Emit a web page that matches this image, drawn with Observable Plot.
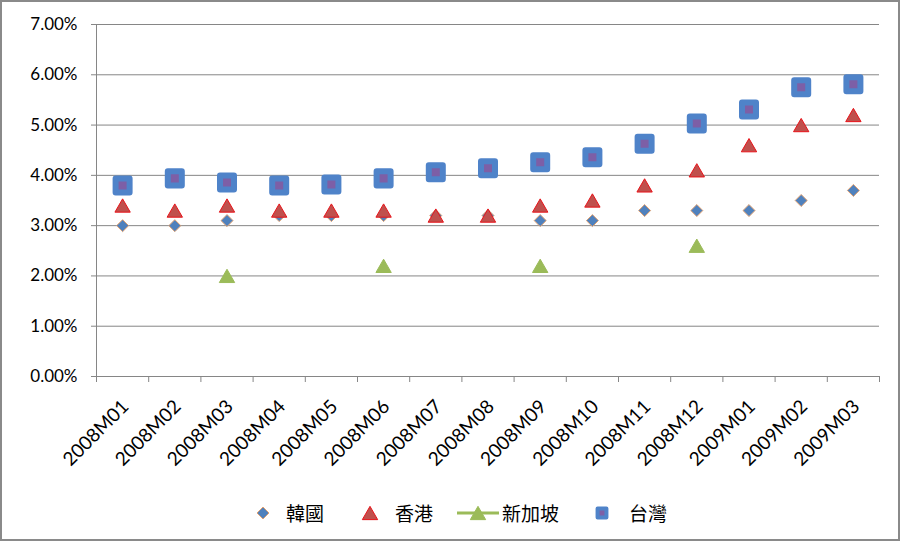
<!DOCTYPE html>
<html>
<head>
<meta charset="utf-8">
<script src="https://cdn.jsdelivr.net/npm/d3@7"></script>
<script src="https://cdn.jsdelivr.net/npm/@observablehq/plot@0.6"></script>
<style>
  html, body { margin: 0; padding: 0; background: #fff; }
  #frame { position: relative; width: 900px; height: 541px; box-sizing: border-box; border: 2px solid #8a8a8a; background: #fff; overflow: hidden; }
  #chart svg { display: block; }
  #legend { position: absolute; top: 497px; left: 251px; display: flex; align-items: center; font-family: "Noto Sans CJK TC", sans-serif; font-size: 19px; color: #000; }
  #legend .item { display: flex; align-items: center; }
  #legend svg { display: block; }
</style>
</head>
<body>
<div id="frame">
  <div id="chart"></div>
  <div id="legend"></div>
</div>
<script>
const months = ["2008M01","2008M02","2008M03","2008M04","2008M05","2008M06","2008M07","2008M08","2008M09","2008M10","2008M11","2008M12","2009M01","2009M02","2009M03"];
const yTicks = [0, 0.01, 0.02, 0.03, 0.04, 0.05, 0.06, 0.07];
const seriesNames = ["韓國", "香港", "新加坡", "台灣"];
const korea     = [0.030,0.030,0.031,0.032,0.032,0.032,0.032,0.032,0.031,0.031,0.033,0.033,0.033,0.035,0.037];
const hongKong  = [0.034,0.033,0.034,0.033,0.033,0.033,0.032,0.032,0.034,0.035,0.038,0.041,0.046,0.050,0.052];
const singapore = [null,null,0.020,null,null,0.022,null,null,0.022,null,null,0.026,null,null,null];
const taiwan    = [0.0380,0.0394,0.0386,0.0380,0.0382,0.0394,0.0406,0.0414,0.0426,0.0436,0.0463,0.0503,0.0531,0.0575,0.0581];

const toRows = (vals) => vals.map((v, i) => ({i, month: months[i], value: v})).filter(d => d.value != null);

const styles = [
  {symbol: "diamond2", r: 5.4, fill: "#4f81bd", stroke: "#e0a070", strokeWidth: 1},
  {symbol: "triangle", r: 5.7, fill: "#c0504d", stroke: "#e8141a", strokeWidth: 1, dy: 2.2},
  {symbol: "triangle", r: 5.7, fill: "#9bbb59", stroke: "#9bbb59", strokeWidth: 1, dy: 2.2},
  {symbol: "square", r: 7.9, fill: "#7d5fa6", stroke: "#4f83c9", strokeWidth: 6, strokeLinejoin: "round"}
];
const data = [korea, hongKong, singapore, taiwan];

const dotMarks = data.map((vals, k) => Plot.dot(toRows(vals), {
  x: d => d.i + 0.5, y: "value", ...styles[k]
}));

const plot = Plot.plot({
  width: 896, height: 470,
  marginLeft: 94, marginRight: 19, marginTop: 22, marginBottom: 96,
  style: {fontFamily: "Lato, sans-serif", fontSize: "17px", color: "#000", background: "transparent"},
  x: {type: "linear", domain: [0, months.length], axis: null},
  y: {domain: [0, 0.07], axis: null},
  marks: [
    Plot.ruleY(yTicks, {stroke: "#868686", strokeWidth: 1}),
    Plot.ruleX([0], {stroke: "#868686", strokeWidth: 1}),
    Plot.axisY({ticks: yTicks, tickFormat: ".2%", tickSize: 5, tickPadding: 14, stroke: "#868686", label: null, fontSize: 17}),
    Plot.axisX({ticks: d3.range(months.length + 1), tickFormat: () => "", tickSize: 6, stroke: "#868686", label: null}),
    Plot.text(months, {x: (d, i) => i + 0.5, y: 0, text: d => d, rotate: -45, textAnchor: "end", lineAnchor: "middle", dx: 3, dy: 27, fontSize: 19, fill: "#000"}),
    ...dotMarks
  ]
});
document.getElementById("chart").appendChild(plot);

// Legend
const legend = d3.select("#legend");
const legendGaps = [0, 36, 24, 33];
const textGaps = [13, 15, 3, 17];
seriesNames.forEach((name, k) => {
  const st = styles[k];
  const item = legend.append("div").attr("class", "item").style("margin-left", legendGaps[k] + "px");
  const w = k === 2 ? 42 : 20;
  const svg = item.append("svg").attr("width", w).attr("height", 22);
  if (k === 2) {
    svg.append("line").attr("x1", 0).attr("x2", w).attr("y1", 11).attr("y2", 11).attr("stroke", "#9bbb59").attr("stroke-width", 3);
  }
  const r = k === 3 ? 5 : st.r;
  const sym = d3.symbol().type({diamond2: d3.symbolDiamond2, triangle: d3.symbolTriangle, square: d3.symbolSquare}[st.symbol]).size(Math.PI * r * r);
  svg.append("path").attr("d", sym()).attr("transform", `translate(${w / 2},${11 + (st.dy || 0)})`)
    .attr("fill", st.fill).attr("stroke", st.stroke).attr("stroke-width", k === 3 ? 4 : st.strokeWidth).attr("stroke-linejoin", "round");
  item.append("span").text(name).style("margin-left", textGaps[k] + "px");
});
</script>
</body>
</html>
